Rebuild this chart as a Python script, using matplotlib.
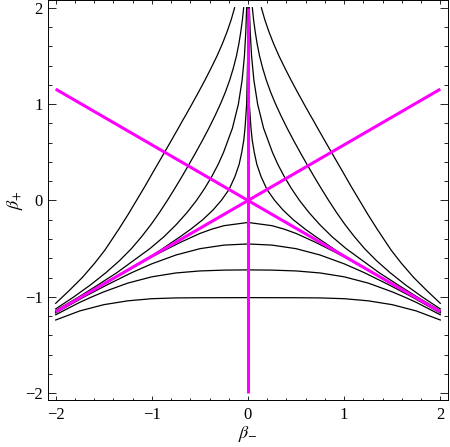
import matplotlib
matplotlib.use("Agg")
import matplotlib.pyplot as plt
from matplotlib.ticker import MultipleLocator

plt.rcParams['font.family'] = ['Liberation Serif', 'DejaVu Serif']
plt.rcParams['mathtext.fontset'] = 'stix'

# upper contours: distance from the beta_- = 0 axis (drawn on both sides)
up1_bp = [2.0, 1.5, 1.0, 0.75, 0.625, 0.5, 0.375, 0.25, 0.114, 0.0, -0.1, -0.2, -0.3, -0.372, -0.474, -0.575, -0.862, -1.15]
up1_d = [0.001, 0.003, 0.014, 0.031, 0.044, 0.065, 0.092, 0.135, 0.197, 0.278, 0.365, 0.471, 0.598, 0.70, 0.85, 1.0, 1.5, 2.0]

up2_bp = [2.0, 1.75, 1.5, 1.25, 1.0, 0.75, 0.5, 0.375, 0.25, 0.125, 0.0, -0.125, -0.25, -0.375, -0.5, -0.75, -0.875, -1.0, -1.143]
up2_d = [0.014, 0.023, 0.037, 0.061, 0.100, 0.162, 0.254, 0.31, 0.376, 0.451, 0.536, 0.634, 0.746, 0.873, 1.021, 1.365, 1.559, 1.758, 2.0]

up3_bp = [2.0, 1.875, 1.75, 1.625, 1.5, 1.375, 1.25, 1.125, 1.0, 0.875, 0.75, 0.625, 0.5, 0.375, 0.25, 0.125, 0.0,
          -0.125, -0.25, -0.375, -0.5, -0.625, -0.75, -0.875, -1.0, -1.125]
up3_d = [0.045, 0.058, 0.075, 0.095, 0.12, 0.152, 0.19, 0.235, 0.287, 0.345, 0.407, 0.473, 0.542, 0.613, 0.686, 0.761, 0.839,
         0.921, 1.009, 1.106, 1.213, 1.337, 1.479, 1.637, 1.811, 2.0]

up4_bp = [2.0, 1.875, 1.75, 1.625, 1.5, 1.375, 1.25, 1.125, 1.0, 0.9, 0.833, 0.73, 0.625, 0.5, 0.4, 0.3, 0.15, 0.0,
          -0.15, -0.3, -0.517, -0.65, -0.8, -0.935, -1.067]
up4_d = [0.139, 0.175, 0.218, 0.267, 0.322, 0.383, 0.447, 0.514, 0.583, 0.639, 0.678, 0.736, 0.796, 0.868, 0.926, 0.984, 1.07, 1.16,
         1.25, 1.345, 1.49, 1.594, 1.724, 1.86, 2.0]

# lower (dome) contours: |beta_-| and beta_+
d1_x = [0, 0.25, 0.375, 0.5, 0.7, 0.85, 1.0, 1.5, 2.0]
d1_bp = [-0.228, -0.2615, -0.297, -0.342, -0.433, -0.508, -0.585, -0.87, -1.158]
d2_x = [0, 0.25, 0.5, 0.75, 1.0, 1.212, 1.465, 1.704, 2.0]
d2_bp = [-0.451, -0.463, -0.5, -0.566, -0.657, -0.75, -0.875, -1.0, -1.167]
d3_x = [0, 0.25, 0.5, 0.75, 1.0, 1.25, 1.5, 1.623, 1.75, 2.0]
d3_bp = [-0.72, -0.7225, -0.731, -0.752, -0.792, -0.857, -0.948, -1.0, -1.057, -1.186]
d4_x = [0, 0.5, 0.75, 1.0, 1.25, 1.5, 1.75, 2.0]
d4_bp = [-1.008, -1.009, -1.011, -1.019, -1.041, -1.081, -1.146, -1.24]

# magenta axis lines (end points)
axis_x = [[0.0, 0.0], [-2.0, 2.0], [-2.0, 2.0]]
axis_y = [[-2.0, 2.0], [1.155, -1.155], [-1.155, 1.155]]

fig = plt.figure(figsize=(4.5, 4.47), dpi=100)
ax = fig.add_axes([48 / 450, 47 / 447, 400 / 450, 400 / 447])

for d, bp in [(up1_d, up1_bp), (up2_d, up2_bp), (up3_d, up3_bp), (up4_d, up4_bp)]:
    ax.plot([-v for v in d], bp, color='black', lw=0.9)
    ax.plot(d, bp, color='black', lw=0.9)

for x, bp in [(d1_x, d1_bp), (d2_x, d2_bp), (d3_x, d3_bp), (d4_x, d4_bp)]:
    xs = [-v for v in x[::-1]] + list(x[1:])
    ys = list(bp[::-1]) + list(bp[1:])
    ax.plot(xs, ys, color='black', lw=0.9)

for xs, ys in zip(axis_x, axis_y):
    ax.plot(xs, ys, color='#ff00ff', lw=2.2, solid_capstyle='butt')

ax.set_xlim(-2.08, 2.08)
ax.set_ylim(-2.07, 2.08)
ax.xaxis.set_major_locator(MultipleLocator(1))
ax.yaxis.set_major_locator(MultipleLocator(1))
ax.xaxis.set_minor_locator(MultipleLocator(0.2))
ax.yaxis.set_minor_locator(MultipleLocator(0.2))
ax.tick_params(which='both', direction='in', top=True, right=True, labelsize=12, width=0.6)
ax.tick_params(axis='x', which='major', length=3.2, pad=5)
ax.tick_params(axis='x', which='minor', length=1.8)
ax.tick_params(axis='y', which='major', length=5.5, pad=4)
ax.tick_params(axis='y', which='minor', length=2.8)
for s in ax.spines.values():
    s.set_linewidth(0.7)

ax.set_xlabel(r'$\beta_{-}$', fontsize=13, labelpad=1)
ax.set_ylabel(r'$\beta_{+}$', fontsize=13, labelpad=0)

fig.savefig('out.png', dpi=100)
